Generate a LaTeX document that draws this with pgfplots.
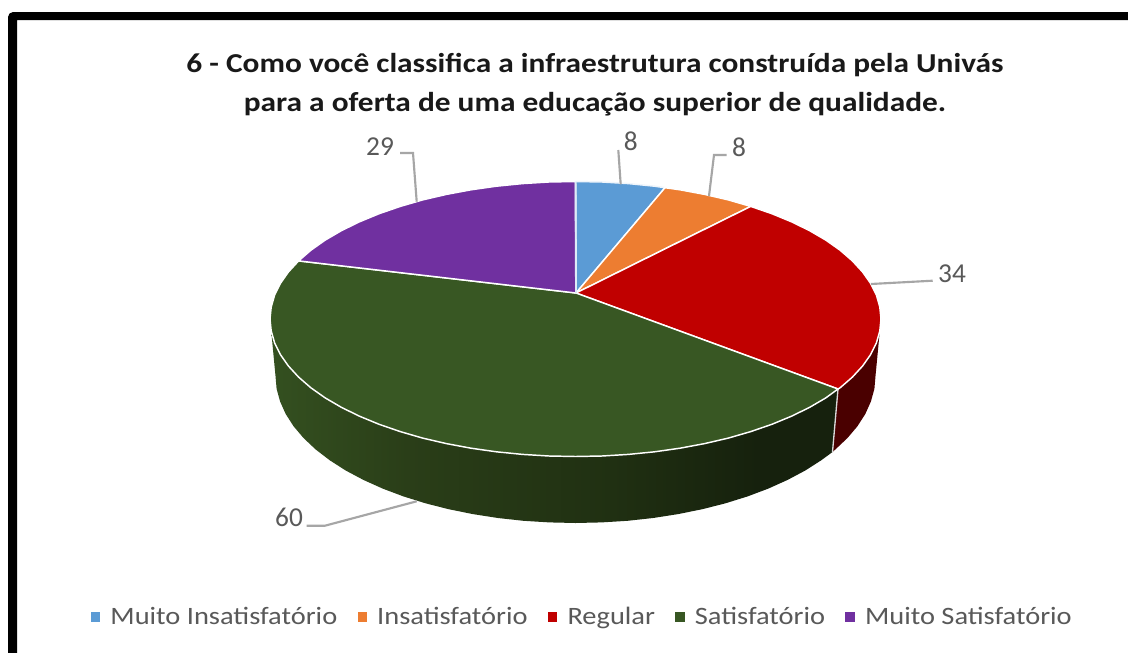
\documentclass[border=0pt]{standalone}
\usepackage{fontspec}
\setmainfont{Carlito}
\usepackage{pgfplots}
\pgfplotsset{compat=1.18}

\definecolor{pblue}{HTML}{5B9BD5}
\definecolor{porange}{HTML}{ED7D31}
\definecolor{pred}{HTML}{C00000}
\definecolor{pgreen}{HTML}{385723}
\definecolor{ppurple}{HTML}{7030A0}
\definecolor{darkred}{HTML}{4A0000}
\definecolor{leader}{HTML}{A6A6A6}
\definecolor{labeltxt}{HTML}{595959}
\definecolor{sidea}{RGB}{52,80,32}
\definecolor{sideb}{RGB}{42,62,24}
\definecolor{sidec}{RGB}{32,48,18}
\definecolor{sided}{RGB}{22,33,13}
\pgfdeclarehorizontalshading{greenside}{100bp}{color(0bp)=(sidea); color(25bp)=(sidea); color(37bp)=(sideb); color(55bp)=(sidec); color(68bp)=(sided); color(75bp)=(sided); color(100bp)=(sided)}
\newcommand{\wide}[1]{\scalebox{1.137}[1]{#1}}
\newcommand{\widetitle}[1]{\scalebox{1.147}[1]{#1}}

\begin{document}
\begin{tikzpicture}
\begin{axis}[
  scale only axis,
  width=846pt,
  height=489.75pt,
  xmin=0,xmax=1128,
  ymin=0,ymax=653,
  y dir=reverse,
  hide axis,
  legend columns=5,
  legend cell align=left,
  legend style={
    draw=none,fill=none,
    at={(0.5165,0.055)},anchor=center,
    font=\fontsize{18.75pt}{22pt}\selectfont,
    text=labeltxt,
    /tikz/every even column/.append style={column sep=13.2pt},
  },
  legend image code/.code={\fill[#1,draw=none] (0pt,-3.5pt) rectangle (7pt,3.5pt); \path[draw=none,fill=none] (0pt,0pt) -- (12.75pt,0pt);},
]
% page and black frame
\addplot[forget plot,fill=white,draw=none] coordinates {(0,0) (1128,0) (1128,653) (0,653)} -- cycle;
\addplot[forget plot,fill=black,draw=none] coordinates {(8,653) (8,17) (9.5,13.5) (13,12) (1128,12) (1128,20) (17,20) (17,653)} -- cycle;

% side walls
\addplot[forget plot,draw=none,shade,shading=greenside] coordinates {
(271.2,331.0) (274.6,342.9) (280.4,354.6) (288.4,366.0) (298.6,377.1) (310.9,387.8) (325.2,397.9) (341.5,407.4) (359.5,416.2) (379.1,424.3) (400.3,431.6) (422.7,438.1) (446.4,443.6) (471.0,448.2) (496.4,451.8) (522.5,454.4) (548.9,456.0) (575.5,456.5) (602.1,456.0) (628.5,454.4) (654.6,451.8) (680.0,448.2) (704.6,443.6) (728.3,438.1) (750.7,431.6) (771.9,424.3) (791.5,416.2) (809.5,407.4) (825.8,397.9) (838,389)
(832.5,452) (821.2,460.3) (805.3,470.5) (787.6,479.9) (768.3,488.6) (747.6,496.4) (725.5,503.3) (702.3,509.2) (678.1,514.1) (653.1,518.0) (627.6,520.8) (601.6,522.4) (575.5,523) (549.4,522.4) (523.4,520.8) (497.9,518.0) (472.9,514.1) (448.7,509.2) (425.5,503.3) (403.4,496.4) (382.7,488.6) (363.4,479.9) (345.7,470.5) (329.8,460.3) (315.7,449.5) (303.6,438.1) (293.6,426.3) (285.7,414.0) (280.1,401.5) (276.6,388.8) (275.5,376)
} -- cycle;
\addplot[forget plot,draw=none,fill=darkred] coordinates {
(838,389) (840.1,387.8) (852.4,377.1) (862.6,366.0) (870.6,354.6) (876.4,342.9) (879.8,331.0)
(875.5,376) (874.4,388.8) (870.9,401.5) (865.3,414.0) (857.4,426.3) (847.4,438.1) (835.3,449.5) (832.5,452)
} -- cycle;
\addplot[forget plot,white!85!black,line width=1pt] coordinates {(838,389) (832.5,452)};

% top slices: 8, 8, 34, 60, 29
\addplot[forget plot,draw=white!90!pblue,line width=1.1pt,fill=pblue] coordinates {
(576,293) (575.5,181.5) (602.1,182.0) (628.5,183.6) (654.6,186.2) (665,187.7)} -- cycle;
\addplot[forget plot,draw=white,line width=1.1pt,fill=porange] coordinates {
(576,293) (665,187.7) (680.0,189.8) (704.6,194.4) (728.3,199.9) (750.7,206.4)} -- cycle;
\addplot[forget plot,draw=white,line width=1.1pt,fill=pred] coordinates {
(576,293) (750.7,206.4) (771.9,213.7) (791.5,221.8) (809.5,230.6) (825.8,240.1) (840.1,250.2) (852.4,260.9) (862.6,272.0) (870.6,283.4) (876.4,295.1) (879.8,307.0) (881.0,319.0) (879.8,331.0) (876.4,342.9) (870.6,354.6) (862.6,366.0) (852.4,377.1) (840.1,387.8) (838,389)} -- cycle;
\addplot[forget plot,draw=white,line width=1.1pt,fill=pgreen] coordinates {
(576,293) (838,389) (825.8,397.9) (809.5,407.4) (791.5,416.2) (771.9,424.3) (750.7,431.6) (728.3,438.1) (704.6,443.6) (680.0,448.2) (654.6,451.8) (628.5,454.4) (602.1,456.0) (575.5,456.5) (548.9,456.0) (522.5,454.4) (496.4,451.8) (471.0,448.2) (446.4,443.6) (422.7,438.1) (400.3,431.6) (379.1,424.3) (359.5,416.2) (341.5,407.4) (325.2,397.9) (310.9,387.8) (298.6,377.1) (288.4,366.0) (280.4,354.6) (274.6,342.9) (271.2,331.0) (270.0,319.0) (271.2,307.0) (274.6,295.1) (280.4,283.4) (288.4,272.0) (298.6,260.9)} -- cycle;
\addplot[forget plot,draw=white,line width=1.1pt,fill=ppurple] coordinates {
(576,293) (298.6,260.9) (310.9,250.2) (325.2,240.1) (341.5,230.6) (359.5,221.8) (379.1,213.7) (400.3,206.4) (422.7,199.9) (446.4,194.4) (471.0,189.8) (496.4,186.2) (522.5,183.6) (548.9,182.0) (575.5,181.5)} -- cycle;
\addplot[forget plot,draw=white!80!pblue,line width=1.4pt] coordinates {(576,293) (575.5,181.5)};

% leader lines
\addplot[forget plot,leader,line width=1.6pt] coordinates {(400,153) (413,153) (416.7,201.7)};
\addplot[forget plot,leader,line width=1.6pt] coordinates {(618.3,150) (620.7,184.3)};
\addplot[forget plot,leader,line width=1.6pt] coordinates {(726.7,155) (714,155) (709,196)};
\addplot[forget plot,leader,line width=1.6pt] coordinates {(932.7,280.7) (871,284)};
\addplot[forget plot,leader,line width=1.6pt] coordinates {(306.7,525.7) (325,525.7) (416.7,501.3)};

% legend
\addlegendimage{fill=pblue}\addlegendentry{\wide{Muito Insatisfatório}}
\addlegendimage{fill=porange}\addlegendentry{\wide{Insatisfatório}}
\addlegendimage{fill=pred}\addlegendentry{\wide{Regular}}
\addlegendimage{fill=pgreen}\addlegendentry{\wide{Satisfatório}}
\addlegendimage{fill=ppurple}\addlegendentry{\wide{Muito Satisfatório}}

% title and data labels
\node[font=\bfseries\fontsize{20.5pt}{24pt}\selectfont,text=black!90] at (axis cs:595,65) {\widetitle{6 - Como você classifica a infraestrutura construída pela Univás}};
\node[font=\bfseries\fontsize{20.5pt}{24pt}\selectfont,text=black!90] at (axis cs:595,104) {\widetitle{para a oferta de uma educação superior de qualidade.}};
\node[font=\fontsize{20.5pt}{24pt}\selectfont,text=labeltxt] at (axis cs:380,147) {29};
\node[font=\fontsize{20.5pt}{24pt}\selectfont,text=labeltxt] at (axis cs:630.7,141.5) {8};
\node[font=\fontsize{20.5pt}{24pt}\selectfont,text=labeltxt] at (axis cs:739,147) {8};
\node[font=\fontsize{20.5pt}{24pt}\selectfont,text=labeltxt] at (axis cs:952,274) {34};
\node[font=\fontsize{20.5pt}{24pt}\selectfont,text=labeltxt] at (axis cs:289,517.5) {60};
\end{axis}
\end{tikzpicture}
\end{document}
